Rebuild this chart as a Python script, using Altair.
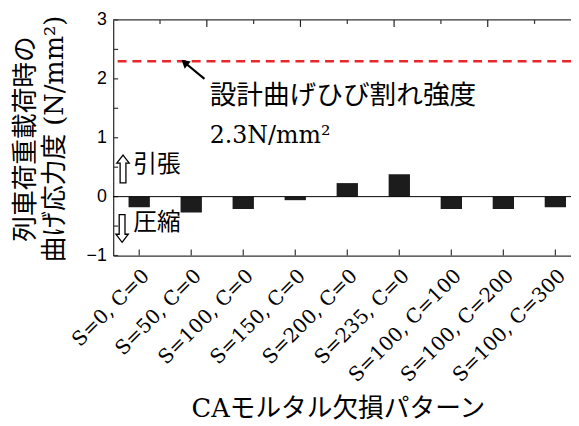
import altair as alt
import pandas as pd

# ---- data ----
categories = ["S=0, C=0", "S=50, C=0", "S=100, C=0", "S=150, C=0", "S=200, C=0",
              "S=235, C=0", "S=100, C=100", "S=100, C=200", "S=100, C=300"]
stress = [-0.18, -0.27, -0.21, -0.06, 0.23, 0.38, -0.21, -0.21, -0.18]
design_strength = [2.3]
zero_line = [0]
frame_top = [3]
y_major = [-1, 0, 1, 2, 3]
y_minor = [-1.0, -0.5, 0.0, 0.5, 1.0, 1.5, 2.0, 2.5, 3.0]
top_minor = [1, 3, 5, 7, 9]
top_major = [2, 4, 6, 8]

# annotation positions in (top-axis units, stress units)
arrow_x = [1.95, 1.525]
arrow_y = [2.0, 2.278]
head_x = [1.525]
head_y = [2.278]
note_text = ["設計曲げひび割れ強度", "2.3N/mm²"]
note_x = [2.06, 2.06]
note_y = [1.70, 1.02]
sign_text = ["引張", "圧縮"]
sign_x = [0.43, 0.43]
sign_y = [0.53, -0.45]
block_x = [0.21, 0.19]
block_y = [0.47, -0.54]

W = 463.5
H = 238.5
RW = 474  # full (cropped) range of the x axis

df = pd.DataFrame({"cat": categories, "v": stress})
yscale = alt.Scale(domain=[-1, 3], nice=False, zero=False)
xband = alt.Scale(range=[0, RW], paddingInner=0.59, paddingOuter=0.295)
xq = alt.Scale(domain=[0, 10], range=[0, RW], nice=False, zero=False)

CJK_SERIF = "DejaVu Serif, Noto Sans CJK JP"
CJK_SANS = "Noto Sans CJK JP"

x_axis = alt.Axis(labelAngle=-45, labelAlign="right", labelBaseline="top",
                  labelPadding=10, labelFont="DejaVu Serif", labelFontSize=20,
                  labelColor="black", tickSize=0, domain=True, domainColor="#333",
                  domainWidth=1.3, grid=False,
                  title="CAモルタル欠損パターン", titleFont=CJK_SERIF,
                  titleFontSize=26, titleFontWeight="normal", titleColor="black",
                  titleX=227.5, titleY=155, titleAlign="center",
                  titleBaseline="middle")
y_axis = alt.Axis(values=y_major, format="d", tickSize=0, domain=True,
                  domainColor="#333", domainWidth=1.3,
                  grid=False, labelFont="Liberation Sans", labelFontSize=18,
                  labelColor="black", labelPadding=7,
                  title=["列車荷重載荷時の", "曲げ応力度 (N/mm²)"],
                  titleFont=CJK_SERIF, titleFontSize=26,
                  titleFontWeight="normal", titleColor="black",
                  titleAngle=270, titleX=-102, titleY=120,
                  titleAlign="center", titleBaseline="top",
                  titleLineHeight=30)

bars = alt.Chart(df).mark_bar(color="#1c1c1c").encode(
    x=alt.X("cat:N", sort=categories, scale=xband, axis=x_axis),
    y=alt.Y("v:Q", scale=yscale, axis=y_axis),
)

bottom_ticks = alt.Chart(df).mark_rule(color="#333", strokeWidth=1.2).encode(
    x=alt.X("cat:N", sort=categories, scale=xband, axis=x_axis),
    y=alt.value(H), y2=alt.value(H - 6),
)

left_ticks = alt.Chart(pd.DataFrame({"v": y_minor})).mark_rule(
    color="#333", strokeWidth=1.2).encode(
    y=alt.Y("v:Q", scale=yscale, axis=y_axis),
    x=alt.value(0), x2=alt.value(5),
)

zero = alt.Chart(pd.DataFrame({"v": zero_line})).mark_rule(
    color="black", strokeWidth=1).encode(y=alt.Y("v:Q", scale=yscale, axis=y_axis))

top_border = alt.Chart(pd.DataFrame({"v": frame_top})).mark_rule(
    color="#333", strokeWidth=1.3).encode(y=alt.Y("v:Q", scale=yscale, axis=y_axis))

design = alt.Chart(pd.DataFrame({"v": design_strength})).mark_rule(
    color="#e8272b", strokeWidth=2.5, strokeDash=[9, 6]).encode(
    y=alt.Y("v:Q", scale=yscale, axis=y_axis))

band_group = alt.layer(bars, bottom_ticks, left_ticks, zero, top_border, design)

top_minor_ticks = alt.Chart(pd.DataFrame({"t": top_minor})).mark_rule(
    color="#333", strokeWidth=1.2).encode(
    x=alt.X("t:Q", scale=xq, axis=None), y=alt.value(0), y2=alt.value(4))
top_major_ticks = alt.Chart(pd.DataFrame({"t": top_major})).mark_rule(
    color="#222", strokeWidth=1.2).encode(
    x=alt.X("t:Q", scale=xq, axis=None), y=alt.value(0), y2=alt.value(7))

arrow_line = alt.Chart(pd.DataFrame({"x": arrow_x, "v": arrow_y, "o": [0, 1]})).mark_line(
    color="black", strokeWidth=2.2).encode(
    x=alt.X("x:Q", scale=xq, axis=None), y=alt.Y("v:Q", scale=yscale, axis=y_axis),
    order="o:Q")
arrow_head = alt.Chart(pd.DataFrame({"x": head_x, "v": head_y})).mark_point(
    shape="triangle-up", filled=True, color="black", size=90, angle=310, opacity=1).encode(
    x=alt.X("x:Q", scale=xq, axis=None), y=alt.Y("v:Q", scale=yscale, axis=y_axis))

notes = alt.Chart(pd.DataFrame({"x": note_x, "v": note_y, "t": note_text})).mark_text(
    align="left", baseline="middle", font=CJK_SERIF, fontSize=24, color="black").encode(
    x=alt.X("x:Q", scale=xq, axis=None), y=alt.Y("v:Q", scale=yscale, axis=y_axis),
    text="t:N", size=alt.condition("datum.v > 1.5", alt.value(27), alt.value(24)))

signs = alt.Chart(pd.DataFrame({"x": sign_x, "v": sign_y, "t": sign_text})).mark_text(
    align="left", baseline="middle", font=CJK_SANS, fontSize=24, color="black").encode(
    x=alt.X("x:Q", scale=xq, axis=None), y=alt.Y("v:Q", scale=yscale, axis=y_axis),
    text="t:N")

UP = "M0,-1 L0.45,-0.42 L0.21,-0.42 L0.21,1 L-0.21,1 L-0.21,-0.42 L-0.45,-0.42 Z"
DOWN = "M0,1 L0.45,0.42 L0.21,0.42 L0.21,-1 L-0.21,-1 L-0.21,0.42 L-0.45,0.42 Z"
up_arrow = alt.Chart(pd.DataFrame({"x": block_x[:1], "v": block_y[:1]})).mark_point(
    shape=UP, size=784, filled=False, color="black", strokeWidth=1.3, opacity=1).encode(
    x=alt.X("x:Q", scale=xq, axis=None), y=alt.Y("v:Q", scale=yscale, axis=y_axis))
down_arrow = alt.Chart(pd.DataFrame({"x": block_x[1:], "v": block_y[1:]})).mark_point(
    shape=DOWN, size=784, filled=False, color="black", strokeWidth=1.3, opacity=1).encode(
    x=alt.X("x:Q", scale=xq, axis=None), y=alt.Y("v:Q", scale=yscale, axis=y_axis))

quant_group = alt.layer(top_minor_ticks, top_major_ticks, arrow_line, arrow_head,
                        notes, signs, up_arrow, down_arrow)

chart = alt.layer(band_group, quant_group).resolve_scale(x="independent").properties(
    width=W, height=H,
    autosize=alt.AutoSizeParams(type="none"),
    padding={"left": 106.5, "top": 9.5, "right": 0, "bottom": 172},
    background="white",
).configure_view(stroke=None)

chart.save("out.html", embed_options={"renderer": "svg", "actions": False})
